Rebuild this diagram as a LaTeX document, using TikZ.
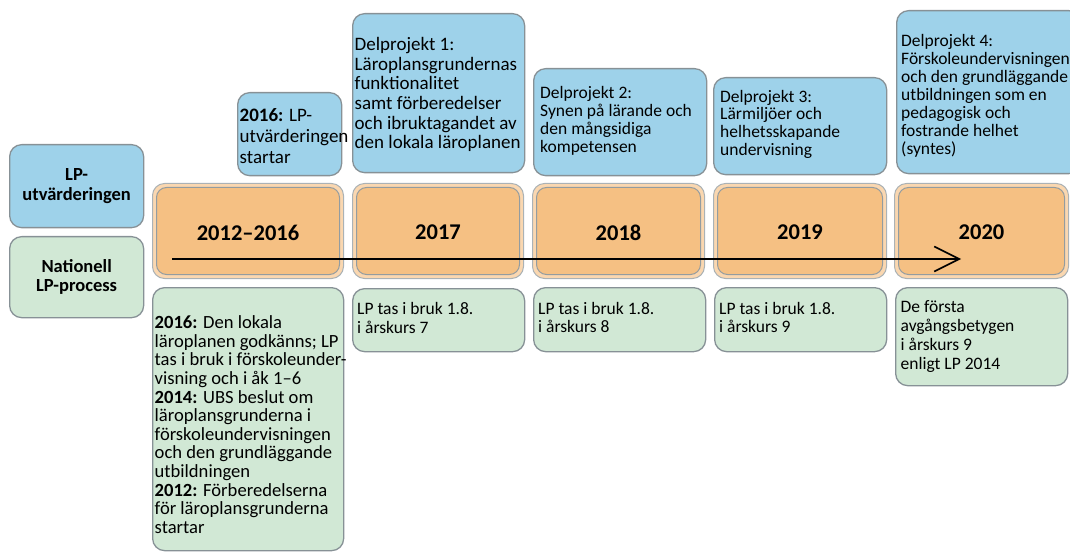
\documentclass[tikz,border=0pt]{standalone}
\usepackage{fontspec}
\setmainfont{Carlito}
\usetikzlibrary{arrows.meta}
\hyphenpenalty=10000
\exhyphenpenalty=10000
\definecolor{bluef}{RGB}{158,210,234}
\definecolor{greenf}{RGB}{209,232,213}
\definecolor{orangef}{RGB}{245,192,131}
\definecolor{orangering}{RGB}{250,215,176}
\definecolor{bordgray}{RGB}{135,145,150}
\tikzset{
  box/.style={draw=bordgray, line width=1.3pt, rounded corners=12pt, inner sep=0pt, anchor=north west},
  bluebox/.style={box, fill=bluef},
  greenbox/.style={box, fill=greenf},
  ringbox/.style={box, fill=orangering, draw=bordgray!70, line width=1pt},
  yearbox/.style={draw=bordgray!90, line width=1pt, fill=orangef, rounded corners=10pt, inner sep=0pt},
  txt/.style={align=left, inner sep=0pt, anchor=west},
  bluetxt/.style={txt, font=\fontsize{17.5}{17.8}\selectfont},
  greentxt/.style={txt, font=\fontsize{17.5}{18.6}\selectfont},
  labeltxt/.style={font=\fontsize{18.5}{19.5}\selectfont\bfseries, align=center, inner sep=0pt},
  yeartxt/.style={font=\fontsize{22.5}{24}\selectfont\bfseries, inner sep=0pt},
  timeline/.style={line width=1.8pt, -{Straight Barb[length=25pt,width=25pt,line width=1.6pt]}}
}
\begin{document}
\begin{tikzpicture}[x=1pt,y=-1pt]
\useasboundingbox (0,0) rectangle (1070,553);
% left labels
\node[bluebox, minimum width=134pt, minimum height=83pt] (lpu) at (9,144) {};
\node[labeltxt] (lput) at (lpu.center) {LP-\\utvärderingen};
\node[greenbox, minimum width=134pt, minimum height=81pt] (nlp) at (9,236) {};
\node[labeltxt] (nlpt) at (nlp.center) {Nationell\\LP-process};
% top blue boxes
\node[bluebox, minimum width=104pt, minimum height=83pt] (b0) at (237,92) {};
\node[txt, font=\fontsize{19}{21}\selectfont] (b0t) at ([xshift=2.5pt,yshift=-1.5pt]b0.west) {\textbf{2016:} LP-\\utvärderingen\\startar};
\node[bluebox, minimum width=172pt, minimum height=159pt] (d1) at (352,13) {};
\node[txt, font=\fontsize{19}{19.6}\selectfont] (d1t) at ([xshift=2.5pt,yshift=-1.5pt]d1.west) {Delprojekt 1:\\Läroplansgrundernas\\funktionalitet\\samt förberedelser\\och ibruktagandet av\\den lokala läroplanen};
\node[bluebox, minimum width=173pt, minimum height=107pt] (d2) at (533,68) {};
\node[bluetxt] (d2t) at ([xshift=7pt,yshift=1.5pt]d2.west) {Delprojekt 2:\\Synen på lärande och\\den mångsidiga\\kompetensen};
\node[bluebox, minimum width=173pt, minimum height=97pt] (d3) at (713,77) {};
\node[bluetxt] (d3t) at ([xshift=7pt,yshift=2pt]d3.west) {Delprojekt 3:\\Lärmiljöer och\\helhetsskapande\\undervisning};
\node[bluebox, minimum width=184pt, minimum height=163pt] (d4) at (896,10) {};
\node[bluetxt, font=\fontsize{17.5}{18}\selectfont] (d4t) at ([xshift=5pt,yshift=-3.5pt]d4.west) {Delprojekt 4:\\Förskoleundervisningen\\och den grundläggande\\utbildningen som en\\pedagogisk och\\fostrande helhet\\(syntes)};
% year boxes
\node[ringbox, minimum width=191pt, minimum height=95pt] (y0) at (152,183) {};
\node[ringbox, minimum width=171pt, minimum height=95pt] (y1) at (352,183) {};
\node[ringbox, minimum width=172pt, minimum height=95pt] (y2) at (532,183) {};
\node[ringbox, minimum width=173pt, minimum height=95pt] (y3) at (713,183) {};
\node[ringbox, minimum width=174pt, minimum height=95pt] (y4) at (894,183) {};
\foreach \n in {y0,y1,y2,y3,y4}{
  \path[yearbox] ([shift={(4.5,4.5)}]\n.north west) rectangle ([shift={(-4.5,-4.5)}]\n.south east);
}
\node[yeartxt] (y0t) at ([yshift=-1.5pt]y0.center) {2012–2016};
\node[yeartxt] (y1t) at ([yshift=-1.5pt]y1.center) {2017};
\node[yeartxt] (y2t) at ([yshift=-1.5pt]y2.center) {2018};
\node[yeartxt] (y3t) at ([yshift=-1.5pt]y3.center) {2019};
\node[yeartxt] (y4t) at ([yshift=-1.5pt]y4.center) {2020};
% timeline arrow
\coordinate (as) at (172,259);
\coordinate (ae) at (961,259);
\draw[timeline] (as) -- (ae);
% bottom green boxes
\node[greenbox, minimum width=191pt, minimum height=263pt] (g0) at (152,287) {};
\node[txt, font=\fontsize{18.6}{18.6}\selectfont] (g0t) at ([xshift=2.5pt,yshift=-5.5pt]g0.west) {\textbf{2016:} Den lokala\\läroplanen godkänns; LP\\tas i bruk i förskoleunder-\\visning och i åk 1–6\\\textbf{2014:} UBS beslut om\\läroplansgrunderna i\\förskoleundervisningen\\och den grundläggande\\utbildningen\\\textbf{2012:} Förberedelserna\\för läroplansgrunderna\\startar};
\node[greenbox, minimum width=172pt, minimum height=63pt] (g1) at (352,288) {};
\node[greentxt] (g1t) at ([xshift=5pt,yshift=2pt]g1.west) {LP tas i bruk 1.8.\\i årskurs 7};
\node[greenbox, minimum width=172pt, minimum height=64pt] (g2) at (533,287) {};
\node[greentxt] (g2t) at ([xshift=5pt,yshift=2pt]g2.west) {LP tas i bruk 1.8.\\i årskurs 8};
\node[greenbox, minimum width=172pt, minimum height=64pt] (g3) at (714,287) {};
\node[greentxt] (g3t) at ([xshift=5pt,yshift=2pt]g3.west) {LP tas i bruk 1.8.\\i årskurs 9};
\node[greenbox, minimum width=172pt, minimum height=98pt] (g4) at (895,287) {};
\node[greentxt, font=\fontsize{17.5}{18.9}\selectfont] (g4t) at ([xshift=5.5pt]g4.west) {De första\\avgångsbetygen\\i årskurs 9\\enligt LP 2014};
\end{tikzpicture}
\end{document}
